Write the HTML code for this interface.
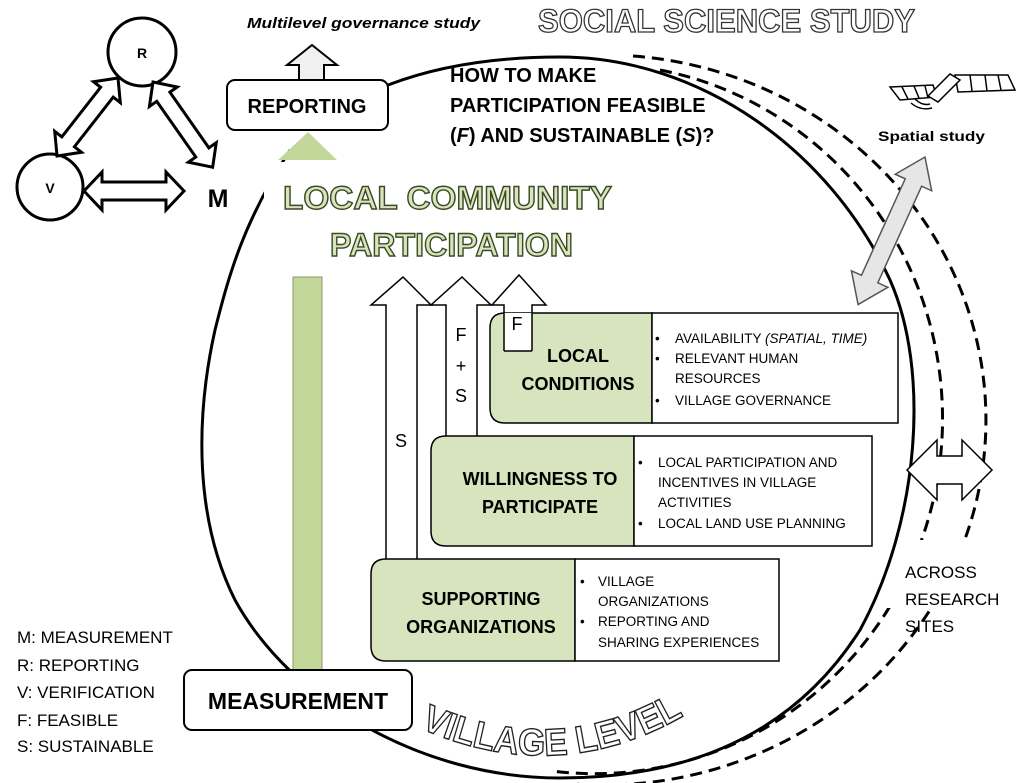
<!DOCTYPE html>
<html><head><meta charset="utf-8"><style>
html,body{margin:0;padding:0;background:#fff;}
svg{display:block;font-family:"Liberation Sans",sans-serif;}
</style></head><body>
<svg width="1024" height="783" viewBox="0 0 1024 783" xmlns="http://www.w3.org/2000/svg">
<!-- dashed arcs -->
<path d="M 660 70 A 348 355 0 0 1 552 771" fill="none" stroke="#000" stroke-width="3" stroke-dasharray="12 7"/>
<path d="M 633 56 A 383 365 0 0 1 573 784" fill="none" stroke="#000" stroke-width="3" stroke-dasharray="12 7"/>
<rect x="878" y="540" width="140" height="68" fill="#fff"/>
<!-- main circle -->
<path d="M 388 85 C 440 65, 500 57, 560 57 C 700 57, 830 150, 890 280 C 930 370, 920 520, 860 630 C 790 740, 680 778, 560 778 C 420 778, 290 700, 235 600 C 195 520, 195 420, 215 330 C 230 270, 245 220, 290 150" fill="none" stroke="#000" stroke-width="3"/>
<rect x="264" y="162" width="358" height="112" fill="#fff"/>

<!-- top texts -->
<text x="247" y="28" font-size="15" font-weight="bold" font-style="italic" textLength="233" lengthAdjust="spacingAndGlyphs">Multilevel governance study</text>
<text x="538" y="32" font-size="32" font-weight="bold" fill="#fff" stroke="#333" stroke-width="1.3" textLength="377" lengthAdjust="spacingAndGlyphs">SOCIAL SCIENCE STUDY</text>

<!-- RVM -->
<circle cx="142" cy="52" r="34" fill="#fff" stroke="#000" stroke-width="3"/>
<text x="142" y="58" font-size="14" font-weight="bold" text-anchor="middle">R</text>
<circle cx="50" cy="187" r="33" fill="#fff" stroke="#000" stroke-width="3"/>
<text x="50" y="193" font-size="14" font-weight="bold" text-anchor="middle">V</text>
<text x="218" y="207" font-size="25" font-weight="bold" text-anchor="middle">M</text>
<g fill="#fff" stroke="#000" stroke-width="3" stroke-linejoin="miter">
<polygon transform="translate(118,78) rotate(128)" points="0,0 18,-17 18,-8 81,-8 81,-17 99,0 81,17 81,8 18,8 18,17"/>
<polygon transform="translate(153,82) rotate(55)" points="0,0 18,-17 18,-8 86,-8 86,-17 104,0 86,17 86,8 18,8 18,17"/>
<polygon transform="translate(84,191)" points="0,0 18,-19 18,-9 82,-9 82,-19 100,0 82,19 82,9 18,9 18,19"/>
</g>

<!-- reporting -->
<polygon points="312,45 337,65 324,65 324,82 299,82 299,65 287,65" fill="#f0f0f0" stroke="#000" stroke-width="2"/>
<rect x="227" y="80" width="161" height="50" rx="8" fill="#fff" stroke="#000" stroke-width="2"/>
<text x="307" y="113" font-size="20" font-weight="bold" text-anchor="middle">REPORTING</text>
<polygon points="308,132 337,160 278,160" fill="#c4d79b"/>
<rect x="293" y="277" width="29" height="393" fill="#c4d79b" stroke="#8a9a6a" stroke-width="1"/>

<!-- question -->
<g font-size="20" font-weight="bold">
<text x="450" y="82">HOW TO MAKE</text>
<text x="450" y="112">PARTICIPATION FEASIBLE</text>
<text x="450" y="142">(<tspan font-style="italic">F</tspan>) AND SUSTAINABLE (<tspan font-style="italic">S</tspan>)?</text>
</g>

<!-- title -->
<text x="283" y="209" font-size="32" font-weight="bold" fill="#d7e4bd" stroke="#3c4a24" stroke-width="1.4" textLength="329" lengthAdjust="spacingAndGlyphs">LOCAL COMMUNITY</text>
<text x="330" y="256" font-size="32" font-weight="bold" fill="#d7e4bd" stroke="#3c4a24" stroke-width="1.4" textLength="243" lengthAdjust="spacingAndGlyphs">PARTICIPATION</text>

<!-- arrows up -->
<g fill="#fff" stroke="#000" stroke-width="1.5">
<polygon points="386,560 386,305 371,305 403,277 431,305 417,305 417,560"/>
<polygon points="446,437 446,305 431,305 462,277 491,305 477,305 477,437"/>
<polygon points="504,351 504,305 492,305 519,275 546,305 532,305 532,351"/>
</g>

<!-- boxes -->
<g stroke="#000" stroke-width="1.5">
<path d="M 505 313 L 652 313 L 652 423 L 505 423 Q 490 423 490 408 L 490 328 Q 490 313 505 313 Z" fill="#d7e4bd"/>
<rect x="652" y="313" width="246" height="110" fill="#fff"/>
<path d="M 446 436 L 634 436 L 634 546 L 446 546 Q 431 546 431 531 L 431 451 Q 431 436 446 436 Z" fill="#d7e4bd"/>
<rect x="634" y="436" width="238" height="110" fill="#fff"/>
<path d="M 386 559 L 575 559 L 575 661 L 386 661 Q 371 661 371 646 L 371 574 Q 371 559 386 559 Z" fill="#d7e4bd"/>
<rect x="575" y="559" width="204" height="102" fill="#fff"/>
</g>
<polygon points="504,313 504,351 532,351 532,313" fill="#fff"/>
<line x1="504" y1="313" x2="504" y2="351" stroke="#000" stroke-width="1.5"/>
<line x1="532" y1="313" x2="532" y2="351" stroke="#000" stroke-width="1.5"/>
<line x1="504" y1="351" x2="532" y2="351" stroke="#000" stroke-width="1.5"/>

<g font-size="18">
<text x="517" y="330" text-anchor="middle">F</text>
<text x="461" y="341" text-anchor="middle">F</text>
<text x="461" y="372" text-anchor="middle">+</text>
<text x="461" y="402" text-anchor="middle">S</text>
<text x="401" y="447" text-anchor="middle">S</text>
</g>

<g font-size="18" font-weight="bold" text-anchor="middle">
<text x="578" y="362">LOCAL</text>
<text x="578" y="390">CONDITIONS</text>
<text x="540" y="485">WILLINGNESS TO</text>
<text x="540" y="513">PARTICIPATE</text>
<text x="481" y="605">SUPPORTING</text>
<text x="481" y="633">ORGANIZATIONS</text>
</g>

<g font-size="13.5">
<text x="655" y="343">•</text><text x="675" y="343">AVAILABILITY <tspan font-style="italic">(SPATIAL, TIME)</tspan></text>
<text x="655" y="363">•</text><text x="675" y="363">RELEVANT HUMAN</text>
<text x="675" y="383">RESOURCES</text>
<text x="655" y="405">•</text><text x="675" y="405">VILLAGE GOVERNANCE</text>
<text x="638" y="467">•</text><text x="658" y="467">LOCAL PARTICIPATION AND</text>
<text x="658" y="487">INCENTIVES IN VILLAGE</text>
<text x="658" y="507">ACTIVITIES</text>
<text x="638" y="528">•</text><text x="658" y="528">LOCAL LAND USE PLANNING</text>
<text x="580" y="586">•</text><text x="598" y="586">VILLAGE</text>
<text x="598" y="606">ORGANIZATIONS</text>
<text x="580" y="626">•</text><text x="598" y="626">REPORTING AND</text>
<text x="598" y="647">SHARING EXPERIENCES</text>
</g>

<!-- satellite -->
<g fill="#fff" stroke="#000" stroke-width="1.5">
<polygon points="890,87 933,85 937,97 900,100"/>
<line x1="902" y1="87" x2="908" y2="99" /><line x1="914" y1="86" x2="919" y2="98"/><line x1="925" y1="86" x2="928" y2="98"/>
<polygon points="955,75 1008,75 1015,90 958,92"/>
<line x1="970" y1="75" x2="972" y2="91"/><line x1="985" y1="75" x2="987" y2="91"/><line x1="998" y1="75" x2="1001" y2="90"/>
<polygon points="928,96 950,74 960,80 938,102"/>
<path d="M 915 99 Q 922 106 930 104 M 911 103 Q 920 111 932 108" fill="none"/>
</g>
<text x="878" y="141" font-size="14" font-weight="bold" textLength="107" lengthAdjust="spacingAndGlyphs">Spatial study</text>
<polygon transform="translate(925,157) rotate(114.4)" points="0,0 28,-20 28,-9 134,-9 134,-20 162,0 134,20 134,9 28,9 28,20" fill="#e6e6e6" stroke="#555" stroke-width="1.5"/>
<polygon transform="translate(907,470)" points="0,0 30,-30 30,-14 55,-14 55,-30 85,0 55,30 55,14 30,14 30,30" fill="#fff" stroke="#000" stroke-width="1.5"/>

<g font-size="17">
<text x="905" y="578">ACROSS</text>
<text x="905" y="605">RESEARCH</text>
<text x="905" y="632">SITES</text>
</g>

<!-- legend -->
<g font-size="17">
<text x="17" y="643">M: MEASUREMENT</text>
<text x="17" y="671">R: REPORTING</text>
<text x="17" y="698">V: VERIFICATION</text>
<text x="17" y="726">F: FEASIBLE</text>
<text x="17" y="752">S: SUSTAINABLE</text>
</g>

<rect x="184" y="670" width="228" height="60" rx="8" fill="#fff" stroke="#000" stroke-width="2"/>
<text x="298" y="709" font-size="23" font-weight="bold" text-anchor="middle">MEASUREMENT</text>

<path id="vl" d="M 420 728 Q 560 790 690 712" fill="none"/>
<text font-size="38" font-weight="bold" fill="#fff" stroke="#222" stroke-width="1.4"><textPath href="#vl" textLength="275" lengthAdjust="spacingAndGlyphs">VILLAGE  LEVEL</textPath></text>
</svg>
</body></html>
